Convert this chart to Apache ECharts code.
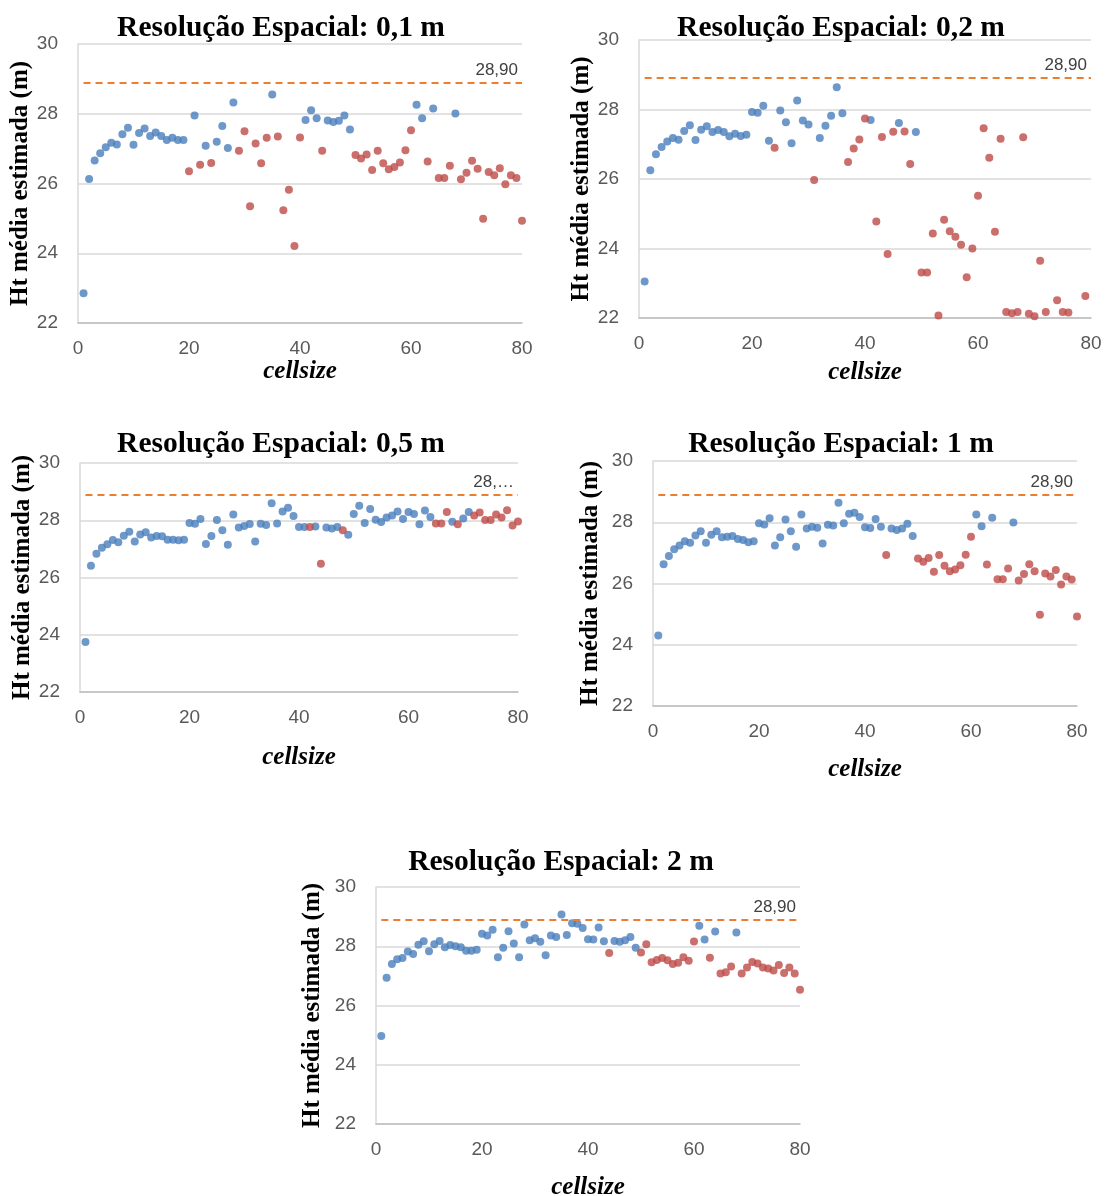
<!DOCTYPE html>
<html>
<head>
<meta charset="utf-8">
<script src="https://cdn.jsdelivr.net/npm/echarts@6/dist/echarts.min.js"></script>
<style>
  html, body { margin: 0; padding: 0; background: #fff; }
  #grafico { width: 1107px; height: 1196px; }
</style>
</head>
<body>
<div id="grafico"></div>
<script>
// cellsize (eixo x)
var cellsize = [1,2,3,4,5,6,7,8,9,10,11,12,13,14,15,16,17,18,19,20,
  21,22,23,24,25,26,27,28,29,30,31,32,33,34,35,36,37,38,39,40,
  41,42,43,44,45,46,47,48,49,50,51,52,53,54,55,56,57,58,59,60,
  61,62,63,64,65,66,67,68,69,70,71,72,73,74,75,76,77,78,79,80];

// Ht média estimada (m) por resolução espacial
var ht01 = [22.85,26.13,26.66,26.87,27.04,27.17,27.12,27.41,27.60,27.11,
  27.45,27.58,27.36,27.46,27.36,27.25,27.31,27.25,27.25,26.35,
  27.95,26.54,27.08,26.59,27.20,27.65,27.02,28.32,26.94,27.50,
  25.35,27.15,26.58,27.31,28.55,27.35,25.23,25.82,24.21,27.32,
  27.82,28.10,27.87,26.94,27.81,27.76,27.80,27.95,27.55,26.82,
  26.72,26.83,26.39,26.94,26.58,26.41,26.47,26.60,26.95,27.53,
  28.26,27.87,26.63,28.15,26.16,26.16,26.51,28.01,26.12,26.31,
  26.65,26.42,24.99,26.33,26.24,26.44,25.98,26.24,26.16,24.93];

var ht02 = [23.05,26.25,26.71,26.92,27.08,27.18,27.13,27.38,27.55,27.12,
  27.42,27.52,27.35,27.41,27.35,27.23,27.30,27.24,27.27,27.93,
  27.91,28.11,27.10,26.90,27.97,27.63,27.03,28.26,27.68,27.57,
  25.97,27.18,27.53,27.82,28.64,27.89,26.49,26.88,27.14,27.74,
  27.70,24.78,27.21,23.84,27.36,27.61,27.37,26.43,27.35,23.31,
  23.31,24.43,22.07,24.83,24.50,24.34,24.11,23.17,24.00,25.52,
  27.46,26.61,24.48,27.16,22.17,22.14,22.17,27.20,22.12,22.05,
  23.65,22.17,null,22.51,22.17,22.16,null,null,22.63,null];

var ht05 = [23.75,26.41,26.83,27.04,27.16,27.31,27.23,27.46,27.60,27.26,
  27.50,27.58,27.40,27.45,27.44,27.32,27.32,27.30,27.32,27.90,
  27.88,28.04,27.17,27.45,28.01,27.65,27.14,28.20,27.75,27.80,
  27.87,27.26,27.88,27.83,28.59,27.89,28.31,28.44,28.15,27.76,
  27.76,27.76,27.78,26.48,27.75,27.71,27.76,27.65,27.49,28.22,
  28.51,27.90,28.39,28.02,27.94,28.10,28.17,28.31,28.04,28.29,
  28.22,27.86,28.34,28.11,27.89,27.89,28.29,27.95,27.86,28.06,
  28.29,28.17,28.27,28.01,28.01,28.20,28.10,28.35,27.82,27.96];

var ht1 = [24.30,26.63,26.90,27.12,27.24,27.38,27.33,27.57,27.71,27.33,
  27.59,27.71,27.51,27.53,27.55,27.45,27.42,27.35,27.38,27.97,
  27.93,28.13,27.24,27.51,28.09,27.71,27.20,28.25,27.80,27.85,
  27.82,27.31,27.92,27.89,28.64,27.97,28.28,28.31,28.17,27.84,
  27.81,28.11,27.85,26.93,27.80,27.75,27.80,27.95,27.55,26.82,
  26.71,26.83,26.38,26.93,26.58,26.40,26.46,26.60,26.94,27.53,
  28.25,27.87,26.62,28.15,26.14,26.14,26.49,27.99,26.10,26.31,
  26.63,26.40,24.98,26.33,26.23,26.44,25.97,26.23,26.13,24.92];

var ht2 = [24.97,26.94,27.40,27.56,27.60,27.82,27.74,28.05,28.17,27.83,
  28.07,28.18,27.97,28.04,28.00,27.97,27.85,27.85,27.88,28.42,
  28.36,28.56,27.63,27.95,28.51,28.09,27.63,28.73,28.20,28.27,
  28.15,27.70,28.36,28.31,29.07,28.38,28.78,28.76,28.62,28.24,
  28.23,28.63,28.17,27.77,28.18,28.15,28.20,28.31,27.95,27.79,
  28.07,27.46,27.54,27.60,27.53,27.40,27.44,27.63,27.51,28.16,
  28.69,28.23,27.61,28.50,27.08,27.12,27.32,28.46,27.08,27.28,
  27.47,27.42,27.28,27.25,27.18,27.37,27.10,27.28,27.08,26.53];

// cellsizes marcados em vermelho
var verm01 = [20,22,24,29,30,31,32,33,34,36,37,38,39,40,44,50,51,52,53,54,55,56,57,58,59,60,
  63,65,66,67,69,70,71,72,73,74,75,76,77,78,79,80];
var verm02 = [24,31,37,38,39,40,42,43,44,45,47,48,50,51,52,53,54,55,56,57,58,59,60,
  61,62,63,64,65,66,67,68,69,70,71,72,74,75,76,79];
var verm05 = [42,44,48,65,66,67,69,72,73,74,75,76,77,78,79,80];
var verm1 = [44,50,51,52,53,54,55,56,57,58,59,60,63,65,66,67,69,70,71,72,73,74,75,76,77,78,79,80];
var verm2 = [44,50,51,52,53,54,55,56,57,58,59,60,63,65,66,67,69,70,71,72,73,74,75,76,77,78,79,80];

// linha de referência
var htReal = 28.9;
var rotulos = ["28,90", "28,90", "28,\u2026", "28,90", "28,90"];
var titulos = ["Resolução Espacial: 0,1 m", "Resolução Espacial: 0,2 m",
  "Resolução Espacial: 0,5 m", "Resolução Espacial: 1 m", "Resolução Espacial: 2 m"];

var AZUL = "#4A7EBB";
var VERMELHO = "#BE4B48";
var LARANJA = "#ED7D31";
var SERIF = "Liberation Serif, Times New Roman, serif";
var SANS = "Liberation Sans, Arial, sans-serif";

// posição de cada painel (área do gráfico)
var paineis = [
  { dados: ht01, verm: verm01, left: 78, top: 44, width: 444, height: 279, tx: 281, ty: 13, gy: 39, gx: 35 },
  { dados: ht02, verm: verm02, left: 639, top: 40, width: 452, height: 278, tx: 841, ty: 13, gy: 40, gx: 42 },
  { dados: ht05, verm: verm05, left: 80, top: 463, width: 438, height: 229, tx: 281, ty: 429, gy: 43, gx: 53 },
  { dados: ht1, verm: verm1, left: 653, top: 461, width: 424, height: 245, tx: 841, ty: 429, gy: 50, gx: 51 },
  { dados: ht2, verm: verm2, left: 376, top: 887, width: 424, height: 237, tx: 561, ty: 847, gy: 51, gx: 51 }
];

//separar pontos azuis e vermelhos
function pontos(valores, vermelhos, querVermelho) {
  var arr = [];
  cellsize.forEach(function(c, i) {
    var v = valores[i];
    if (v === null) return;
    var ehVermelho = vermelhos.indexOf(c) >= 0;
    if (ehVermelho === querVermelho) arr.push([c, v]);
  });
  return arr;
}

var option = {
  animation: false,
  backgroundColor: "#fff",
  title: [],
  grid: [],
  xAxis: [],
  yAxis: [],
  series: []
};

paineis.forEach(function(p, k) {
  option.title.push({
    text: titulos[k],
    left: p.tx,
    top: p.ty,
    textAlign: "center",
    padding: 0,
    textStyle: { fontFamily: SERIF, fontWeight: "bold", fontSize: 29.5, color: "#000" }
  });
  option.grid.push({
    left: p.left, top: p.top, width: p.width, height: p.height,
    containLabel: false,
    outerBoundsMode: "none"
  });
  option.xAxis.push({
    type: "value",
    gridIndex: k,
    min: 0,
    max: 80,
    interval: 20,
    name: "cellsize",
    nameLocation: "middle",
    nameGap: p.gx,
    nameTextStyle: { fontFamily: SERIF, fontWeight: "bold", fontStyle: "italic", fontSize: 25, color: "#000" },
    axisLine: { show: true, lineStyle: { color: "#BFBFBF", width: 1.5 } },
    axisTick: { show: false },
    splitLine: { show: false },
    axisLabel: { fontFamily: SANS, fontSize: 19, color: "#595959", margin: 16 }
  });
  option.yAxis.push({
    type: "value",
    gridIndex: k,
    min: 22,
    max: 30,
    interval: 2,
    name: "Ht média estimada (m)",
    nameLocation: "middle",
    nameRotate: 90,
    nameGap: p.gy,
    nameTextStyle: { fontFamily: SERIF, fontWeight: "bold", fontSize: 25, color: "#000" },
    axisLine: { show: true, lineStyle: { color: "#D9D9D9", width: 1.5 } },
    axisTick: { show: false },
    splitLine: { show: true, lineStyle: { color: "#D9D9D9", width: 1.5 } },
    axisLabel: { fontFamily: SANS, fontSize: 19, color: "#595959", margin: 20 }
  });
  option.series.push({
    type: "scatter",
    xAxisIndex: k,
    yAxisIndex: k,
    symbolSize: 8,
    itemStyle: { color: AZUL },
    data: pontos(p.dados, p.verm, false),
    markLine: {
      silent: true,
      symbol: ["none", "none"],
      lineStyle: { color: LARANJA, type: [7, 5], width: 2 },
      label: {
        show: true,
        position: "insideEndTop",
        formatter: rotulos[k],
        fontFamily: SANS,
        fontSize: 17,
        color: "#404040",
        distance: 4
      },
      data: [[{ coord: [1, htReal] }, { coord: [80, htReal] }]]
    }
  });
  option.series.push({
    type: "scatter",
    xAxisIndex: k,
    yAxisIndex: k,
    symbolSize: 8,
    itemStyle: { color: VERMELHO },
    data: pontos(p.dados, p.verm, true)
  });
});

var chart = echarts.init(document.getElementById("grafico"));
chart.setOption(option);
</script>
</body>
</html>
